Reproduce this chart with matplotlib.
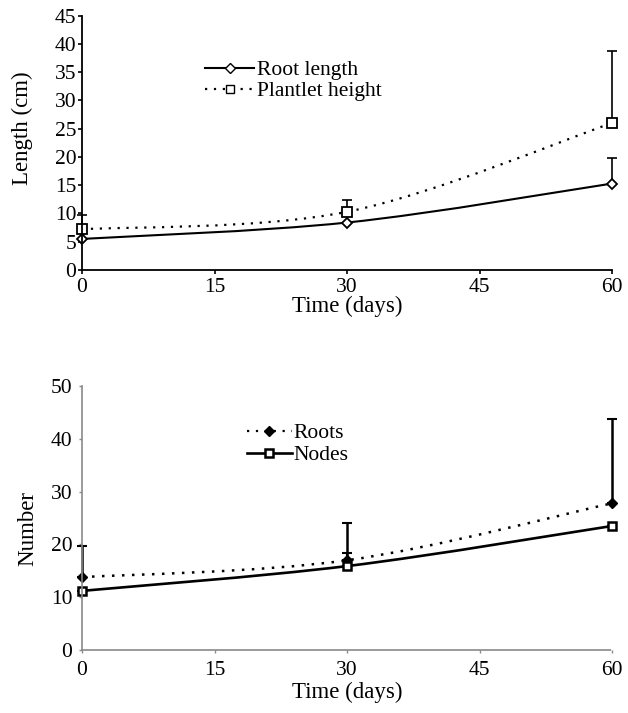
import matplotlib
matplotlib.use("Agg")
import matplotlib.pyplot as plt
import numpy as np
from matplotlib.path import Path
from matplotlib.patches import PathPatch
from matplotlib.lines import Line2D

plt.rcParams['font.family'] = ['Liberation Serif', 'DejaVu Serif']

days = [0, 30, 60]
x_ticks = [0, 15, 30, 45, 60]

root_length = [5.5, 8.4, 15.3]
root_length_err = [0.0, 0.0, 4.6]
plantlet_height = [7.2, 10.3, 26.0]
plantlet_height_err = [2.5, 2.1, 12.8]

roots = [13.8, 17.0, 27.8]
roots_err = [5.9, 7.0, 15.9]
nodes = [11.2, 15.9, 23.5]
nodes_err = [0.0, 2.4, 0.0]


def smooth(ax, x, y, **kw):
    pts = np.column_stack([x, y]).astype(float)
    n = len(pts)
    verts = [pts[0]]
    codes = [Path.MOVETO]
    for i in range(n - 1):
        p0 = pts[i - 1] if i > 0 else pts[i]
        p1 = pts[i]
        p2 = pts[i + 1]
        p3 = pts[i + 2] if i + 2 < n else pts[i + 1]
        c1 = p1 + (p2 - p0) / 6.0
        c2 = p2 - (p3 - p1) / 6.0
        verts += [c1, c2, p2]
        codes += [Path.CURVE4] * 3
    ax.add_patch(PathPatch(Path(verts, codes), fill=False, **kw))


def errs(ax, x, y, e, **kw):
    _, caps, bars = ax.errorbar(x, y, yerr=[np.zeros(len(e)), e], fmt='none', ecolor='black', **kw)
    for c in caps:
        c.set_clip_on(False)
    for b in bars:
        b.set_clip_on(False)


fig = plt.figure(figsize=(6.28, 7.13), dpi=100)
FS = 15.5
LFS = 16.5

# ---------- top panel ----------
ax1 = fig.add_axes([0.1306, 0.6213, 0.844, 0.3567])
smooth(ax1, days, root_length, edgecolor='black', lw=1.5, linestyle='-')
smooth(ax1, days, plantlet_height, edgecolor='black', lw=1.6, linestyle=(0, (1, 3)))
errs(ax1, days, plantlet_height, plantlet_height_err, elinewidth=1.2, capsize=3.5, capthick=1.2)
errs(ax1, days, root_length, root_length_err, elinewidth=1.2, capsize=3.5, capthick=1.2)
ax1.plot(days, root_length, linestyle='none', marker='D', ms=5, mfc='white', mec='black', mew=1.3, clip_on=False)
ax1.plot(days, plantlet_height, linestyle='none', marker='s', ms=7, mfc='white', mec='black', mew=1.3, clip_on=False)
ax1.set_xlim(0, 60)
ax1.set_ylim(0, 45)
ax1.set_xticks(x_ticks)
ax1.set_yticks(np.arange(0, 46, 5))
for s in ['top', 'right']:
    ax1.spines[s].set_visible(False)
ax1.spines['left'].set_linewidth(1.3)
ax1.spines['bottom'].set_linewidth(1.3)
ax1.tick_params(axis='y', direction='out', length=3, width=1.2, labelsize=FS, pad=1)
ax1.tick_params(axis='x', direction='out', length=3, width=1.2, labelsize=FS, pad=3)
ax1.set_xlabel('Time (days)', fontsize=LFS, labelpad=-1)
ax1.set_ylabel('Length (cm)', fontsize=LFS)
ax1.yaxis.set_label_coords(-0.092, 0.558)
h1 = [Line2D([], [], color='black', lw=1.5, marker='D', ms=5, mfc='white', mec='black'),
      Line2D([], [], color='black', lw=1.6, linestyle=(0, (1, 3)), marker='s', ms=6, mfc='white', mec='black')]
ax1.legend(h1, ['Root length', 'Plantlet height'], loc='upper left', bbox_to_anchor=(0.232, 0.825),
           frameon=False, fontsize=FS, handlelength=2.3, handletextpad=0.1, labelspacing=0.05,
           borderaxespad=0, borderpad=0)

# ---------- bottom panel ----------
ax2 = fig.add_axes([0.1306, 0.0884, 0.844, 0.370])
smooth(ax2, days, roots, edgecolor='black', lw=1.8, linestyle=(0, (1, 3)))
smooth(ax2, days, nodes, edgecolor='black', lw=1.9, linestyle='-')
errs(ax2, days, roots, roots_err, elinewidth=1.8, capsize=3.5, capthick=1.5)
errs(ax2, days, nodes, nodes_err, elinewidth=1.5, capsize=3.5, capthick=1.5)
ax2.plot(days, roots, linestyle='none', marker='D', ms=5, mfc='black', mec='black', clip_on=False)
ax2.plot(days, nodes, linestyle='none', marker='s', ms=6, mfc='white', mec='black', mew=1.8, clip_on=False)
ax2.set_xlim(0, 60)
ax2.set_ylim(0, 50)
ax2.set_xticks(x_ticks)
ax2.set_yticks(np.arange(0, 51, 10))
for s in ['top', 'right']:
    ax2.spines[s].set_visible(False)
for s in ['left', 'bottom']:
    ax2.spines[s].set_color('#8a8a8a')
    ax2.spines[s].set_linestyle((0, (1, 1)))
    ax2.spines[s].set_linewidth(1.2)
ax2.tick_params(axis='y', direction='out', length=2, width=1, color='#8a8a8a', labelsize=FS, pad=5)
ax2.tick_params(axis='x', direction='out', length=2, width=1, color='#8a8a8a', labelsize=FS, pad=6)
ax2.set_xlabel('Time (days)', fontsize=LFS, labelpad=1)
ax2.set_ylabel('Number', fontsize=LFS)
ax2.yaxis.set_label_coords(-0.083, 0.462)
h2 = [Line2D([], [], color='black', lw=1.6, linestyle=(0, (1, 3)), marker='D', ms=5, mfc='black', mec='black'),
      Line2D([], [], color='black', lw=1.9, marker='s', ms=6, mfc='white', mec='black', mew=1.8)]
ax2.legend(h2, ['Roots', 'Nodes'], loc='upper left', bbox_to_anchor=(0.311, 0.86),
           frameon=False, fontsize=FS, handlelength=2.1, handletextpad=0.05, labelspacing=0.1,
           borderaxespad=0, borderpad=0)

fig.savefig('out.png', dpi=100)
